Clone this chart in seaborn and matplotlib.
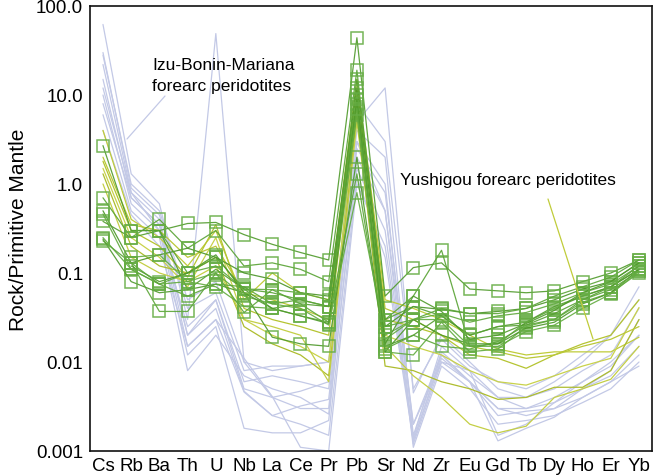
import numpy as np
import pandas as pd
import matplotlib
matplotlib.use("Agg")
import matplotlib.pyplot as plt
import seaborn as sns
from matplotlib.lines import Line2D
from matplotlib.ticker import FixedLocator, FixedFormatter, LogLocator, NullFormatter

elements = ["Cs", "Rb", "Ba", "Th", "U", "Nb", "La", "Ce", "Pr", "Pb",
            "Sr", "Nd", "Zr", "Eu", "Gd", "Tb", "Dy", "Ho", "Er", "Yb"]

ytick_values = [0.001, 0.01, 0.1, 1.0, 10.0, 100.0]
ytick_labels = ["0.001", "0.01", "0.1", "1.0", "10.0", "100.0"]

nan = np.nan

# Izu-Bonin-Mariana forearc peridotites (lavender, no markers)
ibm_1 = [62, 1.3, 0.6, 0.03, 49, 0.01, 0.004, 0.003, 0.003, 3, 0.5, 0.002, 0.012, 0.006, 0.003, 0.003, 0.004, 0.006, 0.01, 0.02]
ibm_2 = [28, 1.0, 0.5, 0.05, 0.08, 0.01, 0.008, 0.009, 0.01, 5, 12, 0.0045, 0.02, 0.01, 0.005, 0.004, 0.006, 0.01, 0.02, 0.05]
ibm_3 = [22, 0.8, 0.4, 0.02, 0.05, 0.005, 0.004, 0.0047, 0.006, 4, 2, 0.0015, 0.013, 0.007, 0.004, 0.003, 0.0035, 0.005, 0.008, 0.03]
ibm_4 = [15, 0.7, 0.35, 0.015, 0.03, 0.0046, 0.0025, 0.0032, 0.0038, 3, 1, 0.0012, 0.01, 0.006, 0.003, 0.0025, 0.003, 0.004, 0.006, 0.012]
ibm_5 = [10, 0.6, 0.3, 0.012, 0.025, 0.0018, 0.0016, 0.0016, 0.0022, 2, 0.5, 0.0011, 0.009, 0.005, 0.002, 0.0022, 0.0025, 0.0035, 0.005, 0.01]
ibm_6 = [6, 0.5, 0.25, 0.008, 0.02, 0.007, 0.005, 0.004, 0.0026, 1.5, 0.3, 0.0013, 0.012, 0.006, 0.0025, 0.0028, 0.003, 0.005, 0.007, 0.015]
ibm_7 = [4, 0.45, 0.2, 0.015, 0.03, 0.011, 0.0041, 0.0011, 0.001, 1.0, 0.2, 0.0014, 0.015, 0.008, 0.0015, 0.002, 0.0035, 0.006, 0.009, 0.02]
ibm_8 = [30, 0.9, 0.45, 0.04, 0.06, 0.008, 0.009, 0.009, 0.01, 8, 3, 0.005, 0.018, 0.009, 0.006, 0.005, 0.007, 0.012, 0.02, 0.07]
ibm_9 = [12, 0.8, 0.3, 0.025, 0.05, 0.006, 0.007, 0.006, 0.005, 2.5, 0.8, 0.002, 0.01, 0.008, 0.004, 0.004, 0.005, 0.008, 0.012, 0.04]
ibm_10 = [8, 0.7, 0.35, 0.02, 0.04, 0.0047, 0.0025, 0.002, 0.0015, 1.2, 0.15, 0.0013, 0.011, 0.006, 0.0013, 0.0018, 0.0024, 0.004, 0.006, 0.009]

# Yushigou forearc peridotites without markers (yellow-green)
yel_1 = [4.0, 0.4, 0.25, 0.12, 0.30, 0.05, 0.10, 0.06, 0.05, 15, 0.05, 0.04, 0.03, 0.02, 0.014, 0.012, 0.013, 0.013, 0.013, 0.019]
yel_2 = [1.8, 0.3, 0.2, 0.09, 0.35, 0.04, 0.03, 0.025, 0.02, 10, 0.03, 0.025, 0.02, 0.012, 0.011, 0.0085, 0.012, 0.016, 0.02, 0.05]
yel_3 = [1.5, 0.25, 0.15, 0.07, 0.25, 0.03, 0.02, 0.015, 0.01, 8, 0.02, 0.015, 0.012, 0.008, 0.006, 0.0055, 0.007, 0.009, 0.011, 0.041]
yel_4 = [1.3, 0.2, 0.12, 0.10, 0.15, 0.025, 0.016, 0.012, 0.007, 6, 0.009, 0.008, 0.006, 0.005, 0.0038, 0.004, 0.0052, 0.0052, 0.008, 0.03]
yel_5 = [1.0, 0.15, 0.10, 0.08, 0.12, 0.03, 0.025, 0.02, 0.006, 5, 0.015, 0.007, 0.004, 0.002, 0.0016, 0.0019, 0.004, 0.005, 0.0064, 0.015]
yel_6 = [2.0, 0.35, 0.30, 0.15, 0.20, 0.06, 0.05, 0.04, 0.03, 12, 0.04, 0.03, 0.02, 0.015, 0.013, 0.011, 0.012, 0.015, 0.018, 0.025]

# Yushigou forearc peridotites with markers (green squares)
grn_1 = [2.7, 0.30, 0.30, 0.36, 0.37, 0.27, 0.21, 0.17, 0.14, 44, 0.055, 0.115, 0.13, 0.066, 0.063, 0.06, 0.063, 0.08, 0.10, 0.14]
grn_2 = [0.7, 0.25, 0.40, 0.19, 0.30, 0.12, 0.13, 0.11, 0.08, 19, 0.030, 0.055, 0.18, 0.015, 0.016, 0.028, 0.04, 0.055, 0.07, 0.11]
grn_3 = [0.5, 0.13, 0.16, 0.19, 0.15, 0.10, 0.085, 0.06, 0.055, 12, 0.025, 0.042, 0.039, 0.035, 0.037, 0.04, 0.05, 0.066, 0.08, 0.13]
grn_4 = [0.46, 0.11, 0.075, 0.10, 0.12, 0.066, 0.065, 0.06, 0.05, 10, 0.018, 0.030, 0.035, 0.028, 0.033, 0.036, 0.045, 0.06, 0.075, 0.12]
grn_5 = [0.38, 0.25, 0.30, 0.065, 0.11, 0.066, 0.04, 0.045, 0.042, 8, 0.015, 0.020, 0.033, 0.020, 0.025, 0.028, 0.042, 0.055, 0.07, 0.11]
grn_6 = [0.25, 0.11, 0.075, 0.08, 0.07, 0.042, 0.04, 0.033, 0.028, 6, 0.013, 0.012, 0.028, 0.013, 0.014, 0.025, 0.03, 0.047, 0.06, 0.10]
grn_7 = [0.24, 0.08, 0.06, 0.065, 0.075, 0.06, 0.019, 0.016, 0.015, 2.0, 0.013, 0.03, 0.02, 0.016, 0.016, 0.024, 0.028, 0.045, 0.06, 0.11]
grn_8 = [0.23, 0.13, 0.037, 0.037, 0.10, 0.036, 0.065, 0.045, 0.028, 1.3, 0.014, 0.02, 0.015, 0.014, 0.017, 0.026, 0.03, 0.05, 0.065, 0.105]
grn_9 = [nan, 0.30, 0.30, 0.10, 0.15, 0.066, 0.06, 0.05, 0.042, 15, 0.03, 0.042, 0.033, 0.02, 0.025, 0.026, 0.035, 0.05, 0.07, 0.12]
grn_10 = [nan, 0.15, 0.16, 0.08, 0.10, 0.055, 0.045, 0.04, 0.026, 0.8, 0.02, 0.03, 0.03, 0.015, 0.015, 0.022, 0.026, 0.04, 0.058, 0.105]
grn_11 = [nan, 0.12, 0.08, 0.10, 0.16, 0.06, 0.04, 0.033, 0.027, 9, 0.016, 0.055, 0.037, 0.018, 0.02, 0.027, 0.038, 0.06, 0.08, 0.13]
grn_12 = [nan, 0.13, 0.075, 0.055, 0.075, 0.07, 0.045, 0.05, 0.042, 7, 0.025, 0.03, 0.04, 0.035, 0.035, 0.04, 0.055, 0.07, 0.09, 0.14]

ibm_series = [ibm_1, ibm_2, ibm_3, ibm_4, ibm_5, ibm_6, ibm_7, ibm_8, ibm_9, ibm_10]
yel_series = [yel_1, yel_2, yel_3, yel_4, yel_5, yel_6]
grn_series = [grn_1, grn_2, grn_3, grn_4, grn_5, grn_6, grn_7, grn_8, grn_9, grn_10, grn_11, grn_12]


def to_long(series_list, prefix):
    rows = []
    for k, vals in enumerate(series_list):
        for i, v in enumerate(vals):
            rows.append({"sample": f"{prefix}{k}", "pos": i, "element": elements[i], "value": v})
    return pd.DataFrame(rows).dropna()


df_ibm = to_long(ibm_series, "ibm")
df_yel = to_long(yel_series, "yel")
df_grn = to_long(grn_series, "grn")

sns.set_theme(style="white")
plt.rcParams["font.family"] = ["Liberation Sans", "DejaVu Sans"]
plt.rcParams["text.color"] = "black"
plt.rcParams["axes.labelcolor"] = "black"
plt.rcParams["xtick.color"] = "black"
plt.rcParams["ytick.color"] = "black"

fig = plt.figure(figsize=(6.53, 4.77), dpi=100)
ax = fig.add_axes([90 / 653, 25 / 477, 562 / 653, 445 / 477])
ax.set_yscale("log")

sns.lineplot(data=df_ibm, x="pos", y="value", units="sample", estimator=None,
             color="#c3c9e6", lw=0.9, ax=ax, legend=False, sort=False)

yel_pal = ["#c0cc3a", "#b5c431", "#c9d24a", "#aebd2e", "#c4cf45", "#bac838"]
sns.lineplot(data=df_yel, x="pos", y="value", units="sample", hue="sample",
             palette=yel_pal, estimator=None, lw=0.9, ax=ax, legend=False, sort=False)

grn_pal = ["#4f9a2a", "#57a232", "#4a9426", "#5ea83a", "#529d2d", "#60aa3c",
           "#4c9728", "#5aa536", "#56a031", "#63ac40", "#4f9a2a", "#5ba537"]
sns.lineplot(data=df_grn, x="pos", y="value", units="sample", hue="sample",
             palette=grn_pal, estimator=None, lw=0.9, ax=ax, legend=False, sort=False,
             marker="s", markersize=8.5, markerfacecolor="none",
             markeredgecolor="#66ad45", markeredgewidth=1.1, alpha=0.9)

ax.set_xlim(-0.46, 19.46)
ax.set_ylim(0.001, 100)
ax.set_xticks(range(len(elements)))
ax.set_xticklabels(elements, fontsize=13.5)
ax.yaxis.set_major_locator(FixedLocator(ytick_values))
ax.yaxis.set_major_formatter(FixedFormatter(ytick_labels))
ax.yaxis.set_minor_locator(LogLocator(base=10, subs=np.arange(2, 10)))
ax.yaxis.set_minor_formatter(NullFormatter())
ax.tick_params(axis="y", which="major", direction="in", length=11, width=1.2,
               labelsize=13.5, pad=5, color="#222222")
ax.tick_params(axis="y", which="minor", direction="in", length=4.5, width=1.0, color="#222222")
ax.tick_params(axis="x", which="major", direction="in", length=7, width=1.0,
               labelsize=13.5, pad=4, color="#222222")
ax.set_xlabel("")
ax.set_ylabel("Rock/Primitive Mantle", fontsize=15, labelpad=6, color="black")
for s in ax.spines.values():
    s.set_color("#111111")
    s.set_linewidth(1.2)

# annotations
fig.text(152 / 653, 1 - 65 / 477, "Izu-Bonin-Mariana", fontsize=12.5, va="center", ha="left", color="black")
fig.text(152 / 653, 1 - 87 / 477, "forearc peridotites", fontsize=12.5, va="center", ha="left", color="black")
fig.text(400 / 653, 1 - 181 / 477, "Yushigou forearc peridotites", fontsize=12.5, va="center", ha="left", color="black")
fig.add_artist(Line2D([165 / 653, 127 / 653], [1 - 97 / 477, 1 - 140 / 477],
                      color="#c3c9e6", lw=0.9))
fig.add_artist(Line2D([548 / 653, 593 / 653], [1 - 200 / 477, 1 - 340 / 477],
                      color="#c0cc3a", lw=0.9))

fig.savefig("out.png", dpi=100)
